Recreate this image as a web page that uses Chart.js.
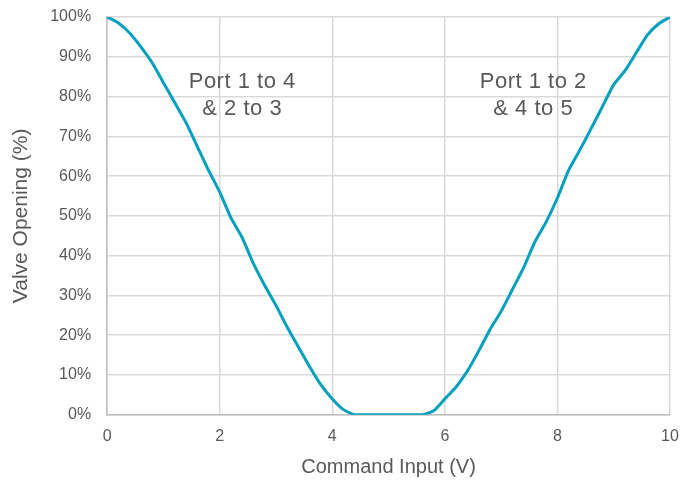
<!DOCTYPE html>
<html><head><meta charset="utf-8">
<script src="https://cdn.jsdelivr.net/npm/chart.js@4/dist/chart.umd.min.js"></script>
<style>html,body{margin:0;padding:0;background:#fff;}#wrap{width:681px;height:483px;}</style>
</head><body><div id="wrap"><canvas id="c" width="681" height="483"></canvas></div>
<script>
const commandInput = [0,0.2,0.4,0.6,0.8,1.0,1.2,1.4,1.6,1.8,2.0,2.2,2.4,2.6,2.8,3.0,3.2,3.4,3.6,3.8,4.0,4.2,4.4,4.6,4.8,5.0,5.2,5.4,5.6,5.8,6.0,6.2,6.4,6.6,6.8,7.0,7.2,7.4,7.6,7.8,8.0,8.2,8.4,8.6,8.8,9.0,9.2,9.4,9.6,9.8,10];
const valveOpening = [100,98.5,96,92.5,88.5,83.5,78.5,73.5,67.5,61.5,56,49.5,44.5,38,32.5,27.5,22,17,12,7.5,4,1.3,0,0,0,0,0,0,0,1,4,7,11,16,21.4,26,31.5,37,43.5,48.5,54.5,61.5,66.6,72,77.5,83,86.5,91,95.5,98.3,100];
const xTicks = [0,2,4,6,8,10];
const labels = [
  {x:2.4, y:[83.7,76.9], text:["Port 1 to 4","& 2 to 3"]},
  {x:7.57, y:[83.7,76.9], text:["Port 1 to 2","& 4 to 5"]}
];
const FONT = "'Liberation Sans', Arial, sans-serif";
const textPlugin = {
  id:'notes',
  afterDatasetsDraw(chart){
    const {ctx, scales:{x,y}} = chart;
    ctx.save();
    ctx.fillStyle = '#595959';
    ctx.font = "22px " + FONT;
    try { ctx.letterSpacing = '0.5px'; } catch(e) {}
    ctx.textAlign = 'center';
    ctx.textBaseline = 'middle';
    labels.forEach(l => l.text.forEach((t,i)=> ctx.fillText(t, x.getPixelForValue(l.x), y.getPixelForValue(l.y[i]))));
    ctx.restore();
  }
};
new Chart(document.getElementById('c'), {
  type:'line',
  data:{datasets:[{data:commandInput.map((v,i)=>({x:v,y:valveOpening[i]})), borderColor:'#00A0BE', borderWidth:3, pointRadius:0, tension:0.2, fill:false}]},
  options:{
    responsive:false, animation:false,
    layout:{padding:{left:4,right:11,top:17,bottom:4}},
    plugins:{legend:{display:false}, tooltip:{enabled:false}},
    scales:{
      x:{type:'linear', min:0, max:10,
        afterBuildTicks(s){ s.ticks = xTicks.map(v=>({value:v})); },
        afterFit(s){ s.paddingLeft = 0; s.paddingRight = 0; },
        grid:{color:'#D9D9D9', lineWidth:1.5, drawTicks:false},
        border:{color:'#BFBFBF', width:1.5},
        ticks:{color:'#595959', font:{family:FONT, size:16}, padding:12, maxRotation:0},
        title:{display:true, text:'Command Input (V)', color:'#595959', font:{family:FONT, size:20}, padding:{top:-3,bottom:0}}
      },
      y:{min:0, max:100,
        afterFit(s){ s.paddingTop = 0; s.paddingBottom = 0; },
        grid:{color:'#D9D9D9', lineWidth:1.5, drawTicks:false},
        border:{color:'#BFBFBF', width:1.5},
        ticks:{stepSize:10, color:'#595959', font:{family:FONT, size:16}, padding:16, callback:v=>v+'%'},
        title:{display:true, text:'Valve Opening (%)', color:'#595959', font:{family:FONT, size:21}, padding:{top:5,bottom:0}}
      }
    }
  },
  plugins:[textPlugin]
});
</script></body></html>
